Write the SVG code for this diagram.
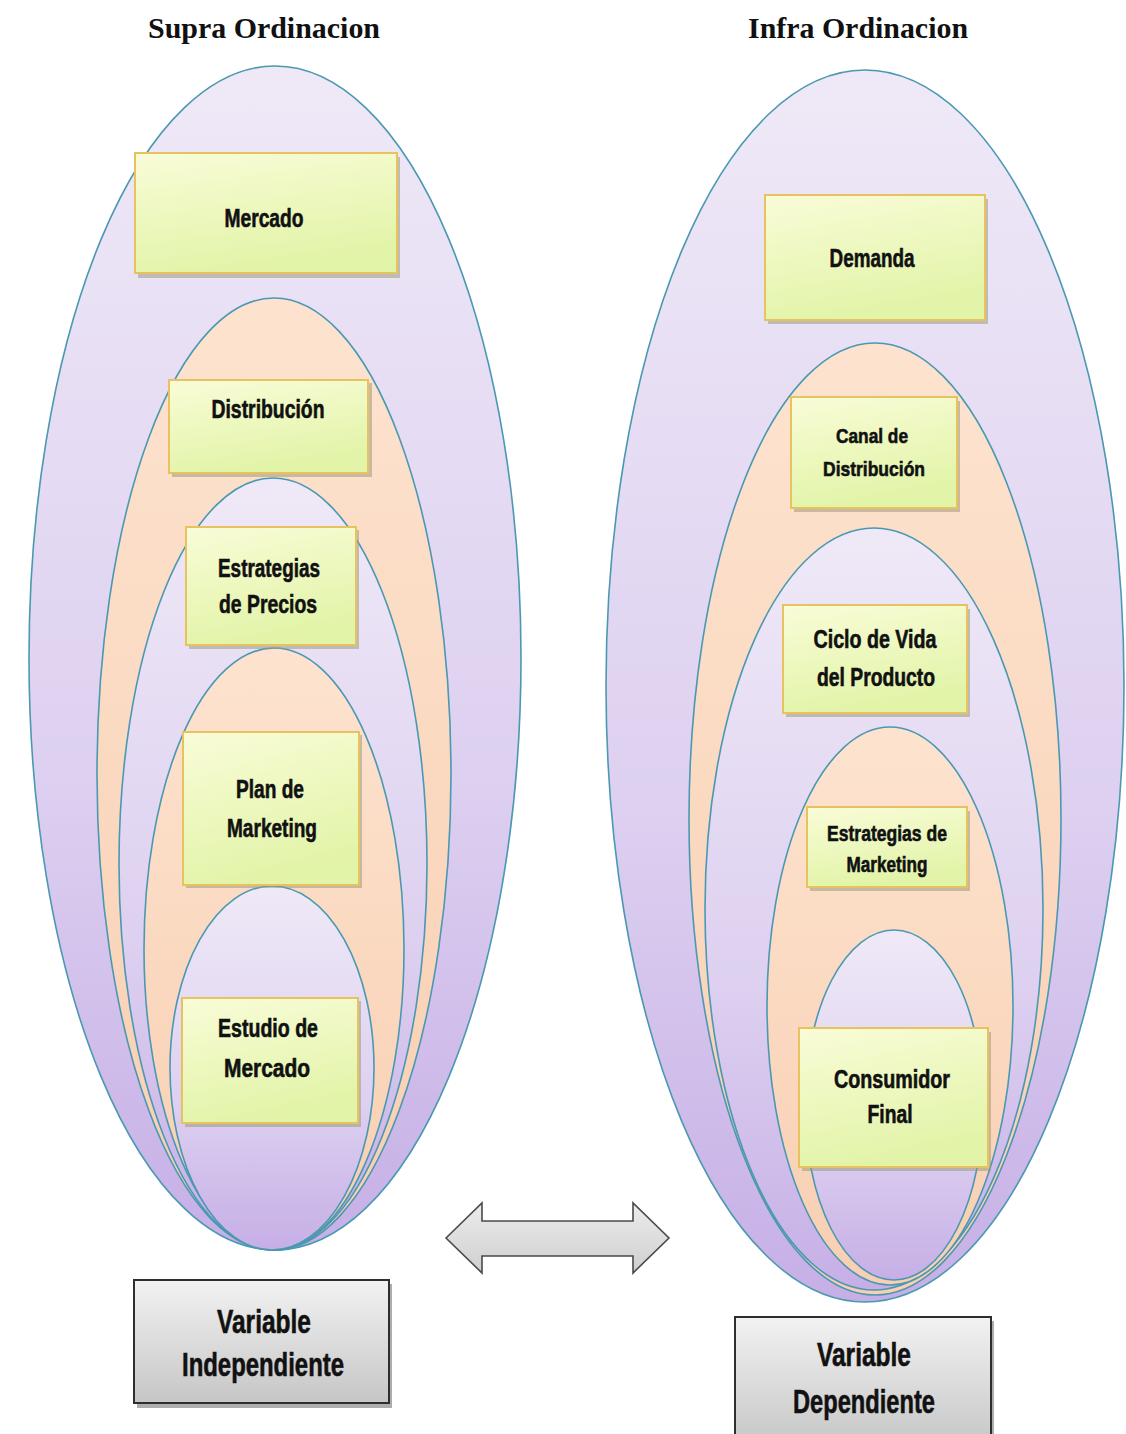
<svg xmlns="http://www.w3.org/2000/svg" width="1126" height="1434" viewBox="0 0 1126 1434">
  <defs>
    <linearGradient id="gPurple" x1="0" y1="0" x2="0" y2="1">
      <stop offset="0" stop-color="#efe9f7"/>
      <stop offset="0.6" stop-color="#ddd0f0"/>
      <stop offset="1" stop-color="#c6afe6"/>
    </linearGradient>
    <linearGradient id="gOrange" x1="0" y1="0" x2="0" y2="1">
      <stop offset="0" stop-color="#fde3cf"/>
      <stop offset="1" stop-color="#f8cfb2"/>
    </linearGradient>
    <linearGradient id="gBox" x1="0" y1="0" x2="0.3" y2="1">
      <stop offset="0" stop-color="#f9fcd8"/>
      <stop offset="1" stop-color="#e2f4a8"/>
    </linearGradient>
    <linearGradient id="gGray" x1="0" y1="0" x2="0" y2="1">
      <stop offset="0" stop-color="#f2f2f2"/>
      <stop offset="1" stop-color="#c6c6c6"/>
    </linearGradient>
    <linearGradient id="gArrow" x1="0" y1="0" x2="0" y2="1">
      <stop offset="0" stop-color="#ececec"/>
      <stop offset="1" stop-color="#cfcfcf"/>
    </linearGradient>
  </defs>
  <style>
    .ep { fill: url(#gPurple); stroke: #4a98b2; stroke-width: 1.6; }
    .eo { fill: url(#gOrange); stroke: #4a98b2; stroke-width: 1.6; }
    .box { fill: url(#gBox); stroke: #e8c25e; stroke-width: 2; }
    .shadow { fill: #9a9a80; opacity: 0.55; }
    .gbox { fill: url(#gGray); stroke: #2e2e2e; stroke-width: 2; }
    .gshadow { fill: #777; opacity: 0.6; }
    .lbl { font-family: "Liberation Sans", Arial, sans-serif; font-weight: bold; fill: #111; stroke: #111; stroke-width: 0.6; text-anchor: middle; }
    .title { font-family: "Liberation Serif", "Times New Roman", serif; font-weight: bold; font-size: 30px; fill: #111; text-anchor: middle; }
  </style>
  <rect width="1126" height="1434" fill="#ffffff"/>

  <g id="titles">
    <text class="title" x="264" y="38" textLength="232" lengthAdjust="spacingAndGlyphs">Supra Ordinacion</text>
    <text class="title" x="858" y="38" textLength="220" lengthAdjust="spacingAndGlyphs">Infra Ordinacion</text>
  </g>

  <g id="left-ellipses">
    <ellipse id="L1" class="ep" cx="275" cy="658" rx="246" ry="592"/>
    <ellipse id="L2" class="eo" cx="274" cy="774" rx="177" ry="476"/>
    <ellipse id="L3" class="ep" cx="273" cy="864" rx="154" ry="386"/>
    <ellipse id="L4" class="eo" cx="274" cy="949" rx="130" ry="301"/>
    <ellipse id="L5" class="ep" cx="272" cy="1068" rx="102" ry="182"/>
  </g>

  <g id="right-ellipses">
    <ellipse id="R1" class="ep" cx="865" cy="686" rx="259" ry="616"/>
    <ellipse id="R2" class="eo" cx="875" cy="819" rx="186" ry="476"/>
    <ellipse id="R3" class="ep" cx="874" cy="909" rx="169" ry="381"/>
    <ellipse id="R4" class="eo" cx="890" cy="1006" rx="123" ry="279"/>
    <ellipse id="R5" class="ep" cx="894" cy="1105" rx="89" ry="175"/>
  </g>

  <g id="node-mercado">
    <rect class="shadow" x="138" y="157" width="262" height="121"/>
    <rect class="box" x="135" y="153" width="262" height="120"/>
    <text class="lbl" x="264" y="227" font-size="26" textLength="79" lengthAdjust="spacingAndGlyphs">Mercado</text>
  </g>
  <g id="node-distribucion">
    <rect class="shadow" x="172" y="383" width="200" height="94"/>
    <rect class="box" x="169" y="380" width="199" height="93"/>
    <text class="lbl" x="268" y="418" font-size="25" textLength="113" lengthAdjust="spacingAndGlyphs">Distribución</text>
  </g>
  <g id="node-precios">
    <rect class="shadow" x="189" y="530" width="170" height="119"/>
    <rect class="box" x="186" y="527" width="170" height="118"/>
    <text class="lbl" x="269" y="577" font-size="26" textLength="102" lengthAdjust="spacingAndGlyphs">Estrategias</text>
    <text class="lbl" x="268" y="613" font-size="26" textLength="98" lengthAdjust="spacingAndGlyphs">de Precios</text>
  </g>
  <g id="node-plan">
    <rect class="shadow" x="186" y="735" width="176" height="153"/>
    <rect class="box" x="183" y="732" width="176" height="153"/>
    <text class="lbl" x="270" y="798" font-size="25" textLength="68" lengthAdjust="spacingAndGlyphs">Plan de</text>
    <text class="lbl" x="272" y="837" font-size="25" textLength="90" lengthAdjust="spacingAndGlyphs">Marketing</text>
  </g>
  <g id="node-estudio">
    <rect class="shadow" x="185" y="1001" width="176" height="126"/>
    <rect class="box" x="182" y="998" width="176" height="125"/>
    <text class="lbl" x="268" y="1037" font-size="25" textLength="100" lengthAdjust="spacingAndGlyphs">Estudio de</text>
    <text class="lbl" x="267" y="1077" font-size="25" textLength="86" lengthAdjust="spacingAndGlyphs">Mercado</text>
  </g>

  <g id="node-demanda">
    <rect class="shadow" x="768" y="199" width="220" height="125"/>
    <rect class="box" x="765" y="195" width="220" height="125"/>
    <text class="lbl" x="872" y="267" font-size="26" textLength="85" lengthAdjust="spacingAndGlyphs">Demanda</text>
  </g>
  <g id="node-canal">
    <rect class="shadow" x="794" y="401" width="166" height="111"/>
    <rect class="box" x="791" y="397" width="166" height="111"/>
    <text class="lbl" x="872" y="443" font-size="21" textLength="72" lengthAdjust="spacingAndGlyphs">Canal de</text>
    <text class="lbl" x="874" y="476" font-size="21" textLength="102" lengthAdjust="spacingAndGlyphs">Distribución</text>
  </g>
  <g id="node-ciclo">
    <rect class="shadow" x="786" y="609" width="184" height="108"/>
    <rect class="box" x="783" y="605" width="184" height="108"/>
    <text class="lbl" x="875" y="648" font-size="25" textLength="123" lengthAdjust="spacingAndGlyphs">Ciclo de Vida</text>
    <text class="lbl" x="876" y="686" font-size="25" textLength="118" lengthAdjust="spacingAndGlyphs">del Producto</text>
  </g>
  <g id="node-estrategias-marketing">
    <rect class="shadow" x="810" y="811" width="160" height="80"/>
    <rect class="box" x="807" y="807" width="160" height="80"/>
    <text class="lbl" x="887" y="841" font-size="22" textLength="120" lengthAdjust="spacingAndGlyphs">Estrategias de</text>
    <text class="lbl" x="887" y="872" font-size="22" textLength="81" lengthAdjust="spacingAndGlyphs">Marketing</text>
  </g>
  <g id="node-consumidor">
    <rect class="shadow" x="802" y="1032" width="189" height="139"/>
    <rect class="box" x="799" y="1028" width="189" height="139"/>
    <text class="lbl" x="892" y="1088" font-size="25" textLength="116" lengthAdjust="spacingAndGlyphs">Consumidor</text>
    <text class="lbl" x="890" y="1123" font-size="25" textLength="45" lengthAdjust="spacingAndGlyphs">Final</text>
  </g>

  <g id="node-var-independiente">
    <rect class="gshadow" x="137" y="1284" width="255" height="124"/>
    <rect class="gbox" x="134" y="1280" width="255" height="123"/>
    <text class="lbl" x="264" y="1333" font-size="33" textLength="94" lengthAdjust="spacingAndGlyphs">Variable</text>
    <text class="lbl" x="263" y="1376" font-size="33" textLength="162" lengthAdjust="spacingAndGlyphs">Independiente</text>
  </g>
  <g id="node-var-dependiente">
    <rect class="gshadow" x="738" y="1321" width="256" height="130"/>
    <rect class="gbox" x="735" y="1317" width="256" height="130"/>
    <text class="lbl" x="864" y="1366" font-size="33" textLength="94" lengthAdjust="spacingAndGlyphs">Variable</text>
    <text class="lbl" x="864" y="1413" font-size="33" textLength="142" lengthAdjust="spacingAndGlyphs">Dependiente</text>
  </g>

  <g id="connectors">
    <path d="M446,1238 L482,1203 L482,1221 L633,1221 L633,1203 L669,1238 L633,1273 L633,1256 L482,1256 L482,1273 Z" fill="url(#gArrow)" stroke="#4a4a4a" stroke-width="1.6" stroke-linejoin="miter"/>
  </g>
</svg>
